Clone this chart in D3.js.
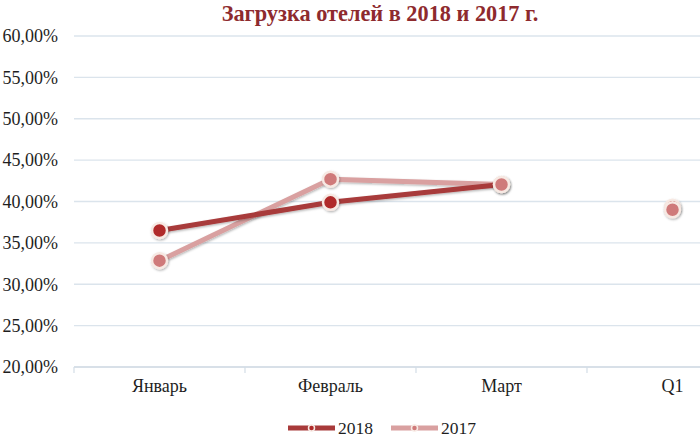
<!DOCTYPE html>
<html>
<head>
<meta charset="utf-8">
<script src="https://cdn.jsdelivr.net/npm/d3@7"></script>
<style>
  body { margin: 0; background: #fff; }
  svg { display: block; font-family: "Liberation Serif", "Times New Roman", serif; }
</style>
</head>
<body>
<div id="chart"></div>
<script>
// data
const categories = ["Январь", "Февраль", "Март", "Q1"];
const lineCats = ["Январь", "Февраль", "Март"];   // Q1 is not joined by the line
const values2018 = [0.365, 0.399, 0.4205, 0.393];
const values2017 = [0.3285, 0.427, 0.4205, 0.390];
const yTicks = [0.20, 0.25, 0.30, 0.35, 0.40, 0.45, 0.50, 0.55, 0.60];

const series = [
  { name: "2018", values: values2018, line: "#a83a3a", fill: "#b02a2a" },
  { name: "2017", values: values2017, line: "#d9a0a0", fill: "#cf7a7a" }
];

const W = 700, H = 438;
const margin = { top: 36, left: 74, bottom: 72 };
const plotRight = 758;   // last band runs past the edge of the picture

const svg = d3.select("#chart").append("svg")
  .attr("width", W).attr("height", H);

const defs = svg.append("defs");
const shadow = defs.append("filter").attr("id", "shadow")
  .attr("x", "-50%").attr("y", "-50%").attr("width", "200%").attr("height", "200%");
shadow.append("feDropShadow")
  .attr("dx", 0.8).attr("dy", 1.2).attr("stdDeviation", 1.2)
  .attr("flood-color", "#000").attr("flood-opacity", 0.3);

const x = d3.scaleBand().domain(categories).range([margin.left, plotRight]).padding(0);
const y = d3.scaleLinear().domain([0.20, 0.60]).range([H - margin.bottom + 1, margin.top]);

const fmt = v => d3.format(".2f")(v * 100).replace(".", ",") + "%";

// title
svg.append("text")
  .attr("x", 380).attr("y", 21)
  .attr("text-anchor", "middle")
  .style("font-size", "22.3px").style("font-weight", "bold")
  .style("fill", "#8e2a2e")
  .text("Загрузка отелей в 2018 и 2017 г.");

// gridlines
svg.append("g").selectAll("line")
  .data(yTicks)
  .enter().append("line")
  .attr("x1", margin.left).attr("x2", W)
  .attr("y1", d => y(d)).attr("y2", d => y(d))
  .attr("stroke", d => d === 0.20 ? "#cbd6e0" : "#dbe4ec")
  .attr("stroke-width", 1.3);

// y axis labels
const yAxis = svg.append("g")
  .attr("transform", `translate(${margin.left},0)`)
  .call(d3.axisLeft(y).tickValues(yTicks).tickFormat(fmt).tickSize(0).tickPadding(16));
yAxis.select(".domain").remove();
yAxis.selectAll("text")
  .style("font-family", "'Liberation Serif', serif")
  .style("font-size", "18px").style("fill", "#1e1e1e");

// x axis
const xAxis = svg.append("g")
  .attr("transform", `translate(0,${y(0.20)})`)
  .call(d3.axisBottom(x).tickSize(0).tickPadding(12));
xAxis.select(".domain").remove();
xAxis.selectAll("text")
  .style("font-family", "'Liberation Serif', serif")
  .style("font-size", "18px").style("fill", "#1e1e1e");
// tick marks at band boundaries
xAxis.selectAll(".bound")
  .data(categories)
  .enter().append("line")
  .attr("class", "bound")
  .attr("x1", d => x(d)).attr("x2", d => x(d))
  .attr("y1", 0).attr("y2", 6)
  .attr("stroke", "#d3dde6").attr("stroke-width", 1.2);

const cx = c => x(c) + x.bandwidth() / 2;

// lines
const line = d3.line()
  .x(d => cx(d.cat))
  .y(d => y(d.v));

series.slice().reverse().forEach(s => {
  const pts = lineCats.map((c, i) => ({ cat: c, v: s.values[i] }));
  svg.append("path")
    .datum(pts)
    .attr("d", line)
    .attr("fill", "none")
    .attr("stroke", s.line)
    .attr("stroke-width", 5)
    .attr("stroke-linejoin", "round")
    .attr("filter", "url(#shadow)");
});

// markers
series.forEach(s => {
  svg.append("g").selectAll("circle")
    .data(categories.map((c, i) => ({ cat: c, v: s.values[i] })))
    .enter().append("circle")
    .attr("cx", d => cx(d.cat))
    .attr("cy", d => y(d.v))
    .attr("r", 7.5)
    .attr("fill", s.fill)
    .attr("stroke", "#f7e9e3")
    .attr("stroke-width", 2.5)
    .attr("filter", "url(#shadow)");
});

// legend
const legend = svg.append("g").attr("transform", "translate(288,428)");
series.forEach((s, i) => {
  const g = legend.append("g").attr("transform", `translate(${i * 103},0)`);
  g.append("line")
    .attr("x1", 0).attr("x2", 47).attr("y1", 0).attr("y2", 0)
    .attr("stroke", s.line).attr("stroke-width", 5);
  g.append("circle")
    .attr("cx", 23.5).attr("cy", 0).attr("r", 3)
    .attr("fill", s.fill).attr("stroke", "#f7e9e3").attr("stroke-width", 1.5);
  g.append("text")
    .attr("x", 50).attr("y", 6)
    .style("font-size", "17.5px").style("fill", "#1e1e1e")
    .text(s.name);
});
</script>
</body>
</html>
